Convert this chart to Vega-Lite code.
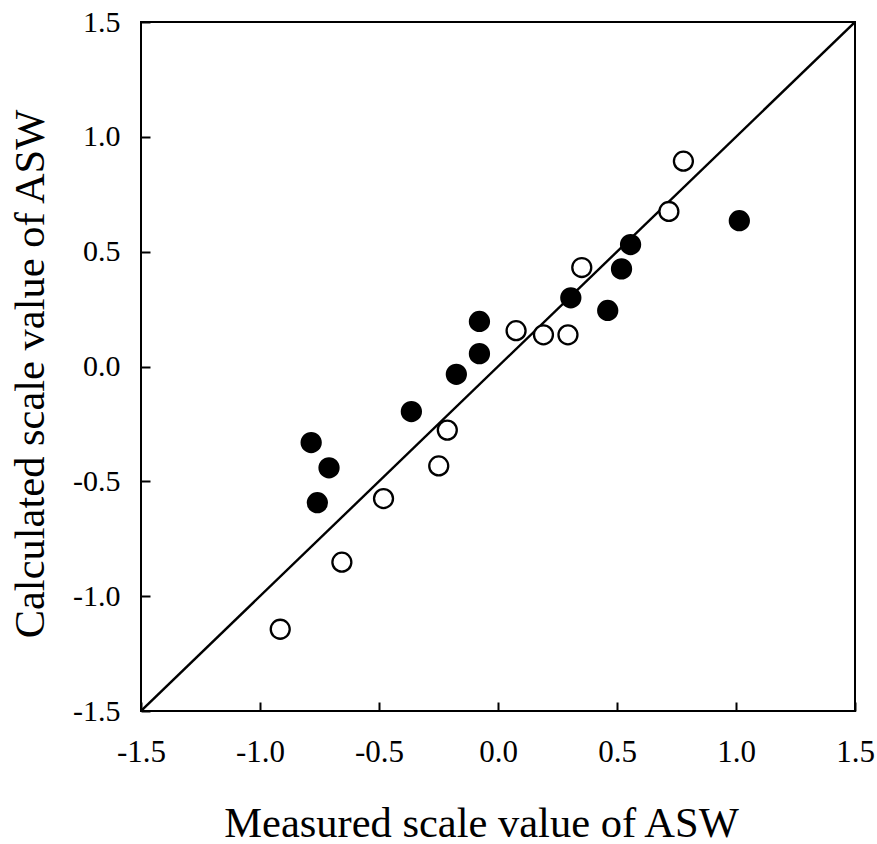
{
  "$schema": "https://vega.github.io/schema/vega-lite/v6.json",
  "autosize": "none",
  "padding": {"left": 141, "top": 22, "right": 22, "bottom": 133},
  "width": 714,
  "height": 689,
  "background": "white",
  "config": {
    "view": {"stroke": "black", "strokeWidth": 2},
    "font": "Liberation Serif"
  },
  "datasets": {
    "points": [
      {"measured": -0.785, "calculated": -0.331, "group": "filled"},
      {"measured": -0.71, "calculated": -0.441, "group": "filled"},
      {"measured": -0.759, "calculated": -0.593, "group": "filled"},
      {"measured": -0.364, "calculated": -0.196, "group": "filled"},
      {"measured": -0.175, "calculated": -0.034, "group": "filled"},
      {"measured": -0.078, "calculated": 0.056, "group": "filled"},
      {"measured": -0.078, "calculated": 0.196, "group": "filled"},
      {"measured": 0.306, "calculated": 0.299, "group": "filled"},
      {"measured": 0.461, "calculated": 0.244, "group": "filled"},
      {"measured": 0.519, "calculated": 0.425, "group": "filled"},
      {"measured": 0.557, "calculated": 0.531, "group": "filled"},
      {"measured": 1.014, "calculated": 0.635, "group": "filled"},
      {"measured": -0.915, "calculated": -1.144, "group": "open"},
      {"measured": -0.656, "calculated": -0.852, "group": "open"},
      {"measured": -0.481, "calculated": -0.575, "group": "open"},
      {"measured": -0.249, "calculated": -0.433, "group": "open"},
      {"measured": -0.213, "calculated": -0.277, "group": "open"},
      {"measured": 0.076, "calculated": 0.156, "group": "open"},
      {"measured": 0.191, "calculated": 0.138, "group": "open"},
      {"measured": 0.294, "calculated": 0.138, "group": "open"},
      {"measured": 0.352, "calculated": 0.431, "group": "open"},
      {"measured": 0.718, "calculated": 0.675, "group": "open"},
      {"measured": 0.779, "calculated": 0.894, "group": "open"}
    ],
    "diagonal": [
      {"measured": -1.5, "calculated": -1.5},
      {"measured": 1.5, "calculated": 1.5}
    ]
  },
  "encoding": {
    "x": {
      "field": "measured", "type": "quantitative",
      "scale": {"domain": [-1.5, 1.5], "nice": false, "zero": false},
      "axis": {
        "title": "Measured scale value of ASW",
        "values": [-1.5, -1.0, -0.5, 0, 0.5, 1.0, 1.5],
        "labelExpr": "replace(format(datum.value, '.1f'), '\u2212', '-')",
        "grid": false,
        "domain": false,
        "offset": -9,
        "ticks": true,
        "tickColor": "black", "tickWidth": 2, "tickSize": 9, "tickOpacity": 1,
        "labelFont": "Liberation Serif", "labelFontSize": 31, "labelColor": "black",
        "labelPadding": 50, "labelBaseline": "alphabetic", "labelFlush": false,
        "titleFont": "Liberation Serif", "titleFontSize": 42.5, "titleFontWeight": "normal", "titleColor": "black",
        "titleX": 340, "titleY": 134, "titleBaseline": "alphabetic", "titleAlign": "center"
      }
    },
    "y": {
      "field": "calculated", "type": "quantitative",
      "scale": {"domain": [-1.5, 1.5], "nice": false, "zero": false},
      "axis": {
        "title": "Calculated scale value of ASW",
        "values": [-1.5, -1.0, -0.5, 0, 0.5, 1.0, 1.5],
        "labelExpr": "replace(format(datum.value, '.1f'), '\u2212', '-')",
        "grid": false,
        "domain": false,
        "offset": -9,
        "ticks": true,
        "tickColor": "black", "tickWidth": 2, "tickSize": 9, "tickOpacity": 1,
        "labelFont": "Liberation Serif", "labelFontSize": 30, "labelColor": "black",
        "labelPadding": 21, "labelBaseline": "middle", "labelFlush": false,
        "titleFont": "Liberation Serif", "titleFontSize": 42.5, "titleFontWeight": "normal", "titleColor": "black",
        "titleX": -107, "titleY": 351.5, "titleBaseline": "alphabetic", "titleAlign": "center", "titleAngle": -90
      }
    }
  },
  "layer": [
    {
      "data": {"name": "diagonal"},
      "mark": {"type": "line", "color": "black", "strokeWidth": 2.4, "clip": true},
      "encoding": {}
    },
    {
      "data": {"name": "points"},
      "mark": {"type": "point", "shape": "circle", "filled": false, "size": 360, "strokeWidth": 2.3, "stroke": "black", "opacity": 1},
      "encoding": {
        "fill": {
          "field": "group", "type": "nominal",
          "scale": {"domain": ["filled", "open"], "range": ["black", "white"]},
          "legend": null
        }
      }
    }
  ]
}
